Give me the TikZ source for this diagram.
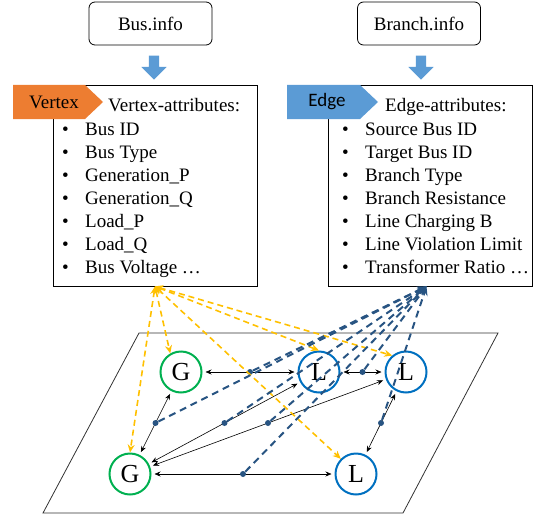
\documentclass[tikz,border=0pt]{standalone}
\usepackage{fontspec}
\setmainfont{Liberation Serif}
\newfontfamily\calibri{Carlito}
\usetikzlibrary{arrows.meta,shapes.arrows,positioning}
\definecolor{tagorange}{RGB}{237,125,49}
\definecolor{tagblue}{RGB}{91,155,213}
\definecolor{busgreen}{RGB}{0,176,80}
\definecolor{loadblue}{RGB}{0,112,192}
\definecolor{vlink}{RGB}{255,192,0}
\definecolor{elink}{RGB}{40,84,130}

\begin{document}
\begin{tikzpicture}[x=1pt, y=-1pt, >={Stealth[length=6pt,width=5pt]},
    every node/.style={font=\fontsize{19}{23}\selectfont},
    infobox/.style={draw, rounded corners=6pt, line width=0.8pt, minimum width=123pt, minimum height=43pt},
    attrbox/.style={draw, line width=0.8pt, minimum width=204pt, minimum height=201pt},
    downarrow/.style={single arrow, fill=tagblue, rotate=-90, inner sep=5pt, minimum height=24pt, minimum width=25pt, single arrow head extend=7.5pt},
    gbus/.style={circle, draw=busgreen, line width=2pt, minimum size=41pt, inner sep=0pt, font=\fontsize{26}{26}\selectfont},
    lbus/.style={circle, draw=loadblue, line width=2pt, minimum size=41pt, inner sep=0pt, font=\fontsize{26}{26}\selectfont},
    branch/.style={<->, line width=0.6pt, shorten <=3pt, shorten >=3pt},
    edot/.style={circle, fill=elink, inner sep=0pt, minimum size=6pt},
    vdash/.style={draw=vlink, line width=1.6pt, dash pattern=on 6pt off 4pt, {Stealth[length=8pt,width=7pt]}-{Stealth[length=8pt,width=7pt]}},
    edash/.style={draw=elink, line width=2pt, dash pattern=on 7pt off 5pt, -{Stealth[length=9pt,width=8pt]}}]
    \useasboundingbox (0,0) rectangle (537,516);

    % source files
    \node[infobox] (businfo) at (150.5,23.5) {Bus.info};
    \node[infobox] (branchinfo) at (419,23.5) {Branch.info};
    \node[downarrow] (busarrow) at (154,65) {};
    \node[downarrow] (brarrow) at (421,65) {};

    % attribute boxes
    \node[attrbox] (vbox) at (155,185.5) {};
    \node[attrbox] (ebox) at (430.5,185.5) {};
    \fill[tagorange] (13,85) -- (85,85) -- (103,102) -- (85,119) -- (13,119) -- cycle;
    \fill[tagblue] (287,85) -- (360,85) -- (378,102) -- (360,119) -- (287,119) -- cycle;
    \node (vtag) at (54,102) {Vertex};
    \node[font=\calibri\fontsize{19}{23}\selectfont] (etag) at (327,102) {Edge};
    \node[anchor=base west, inner sep=0pt] (vhead) at (108,111) {Vertex-attributes:};
    \node[anchor=base west, inner sep=0pt] (ehead) at (385,111) {Edge-attributes:};
    \node[anchor=base west, inner sep=0pt, align=left] (vlist) at (62,273) {%
        \makebox[23pt][l]{\textbullet}Bus ID\\
        \makebox[23pt][l]{\textbullet}Bus Type\\
        \makebox[23pt][l]{\textbullet}Generation\_P\\
        \makebox[23pt][l]{\textbullet}Generation\_Q\\
        \makebox[23pt][l]{\textbullet}Load\_P\\
        \makebox[23pt][l]{\textbullet}Load\_Q\\
        \makebox[23pt][l]{\textbullet}Bus Voltage …};
    \node[anchor=base west, inner sep=0pt, align=left] (elist) at (342,273) {%
        \makebox[23pt][l]{\textbullet}Source Bus ID\\
        \makebox[23pt][l]{\textbullet}Target Bus ID\\
        \makebox[23pt][l]{\textbullet}Branch Type\\
        \makebox[23pt][l]{\textbullet}Branch Resistance\\
        \makebox[23pt][l]{\textbullet}Line Charging B\\
        \makebox[23pt][l]{\textbullet}Line Violation Limit\\
        \makebox[23pt][l]{\textbullet}Transformer Ratio …};
    \coordinate (vport) at (vbox.south);
    \coordinate (eport) at ([xshift=-4pt]ebox.south);

    % graph plane
    \draw[line width=0.8pt, draw=black!80] (139,333) -- (498,333) -- (403,513) -- (43,513) -- cycle;
    \node[gbus] (g1) at (181,372) {G};
    \node[gbus] (g2) at (130,474) {G};
    \node[lbus] (l1) at (319,372) {L};
    \node[lbus] (l2) at (406,372) {L};
    \node[lbus] (l3) at (356,474) {L};

    % branches
    \draw[branch] (g1) -- node[edot] (d1) {} (l1);
    \draw[branch] (l1) -- node[edot] (d2) {} (l2);
    \draw[branch] (g1) -- node[edot] (d3) {} (g2);
    \draw[branch] (g2) -- node[edot] (d4) {} (l1);
    \draw[branch] (g2) -- node[edot] (d5) {} (l2);
    \draw[branch] (g2) -- node[edot] (d6) {} (l3);
    \draw[branch] (l2) -- node[edot] (d7) {} (l3);

    % vertex links
    \draw[vdash] (vport) -- (g1.120);
    \draw[vdash] (vport) -- (g2.north);
    \draw[vdash] (vport) -- (l1.north);
    \draw[vdash] (vport) -- (l2.130);
    \draw[vdash] (vport) -- (l3.135);

    % edge links
    \foreach \d in {d1,d2,d3,d4,d5,d6,d7}
        \draw[edash] (\d) -- (eport);
\end{tikzpicture}
\end{document}
